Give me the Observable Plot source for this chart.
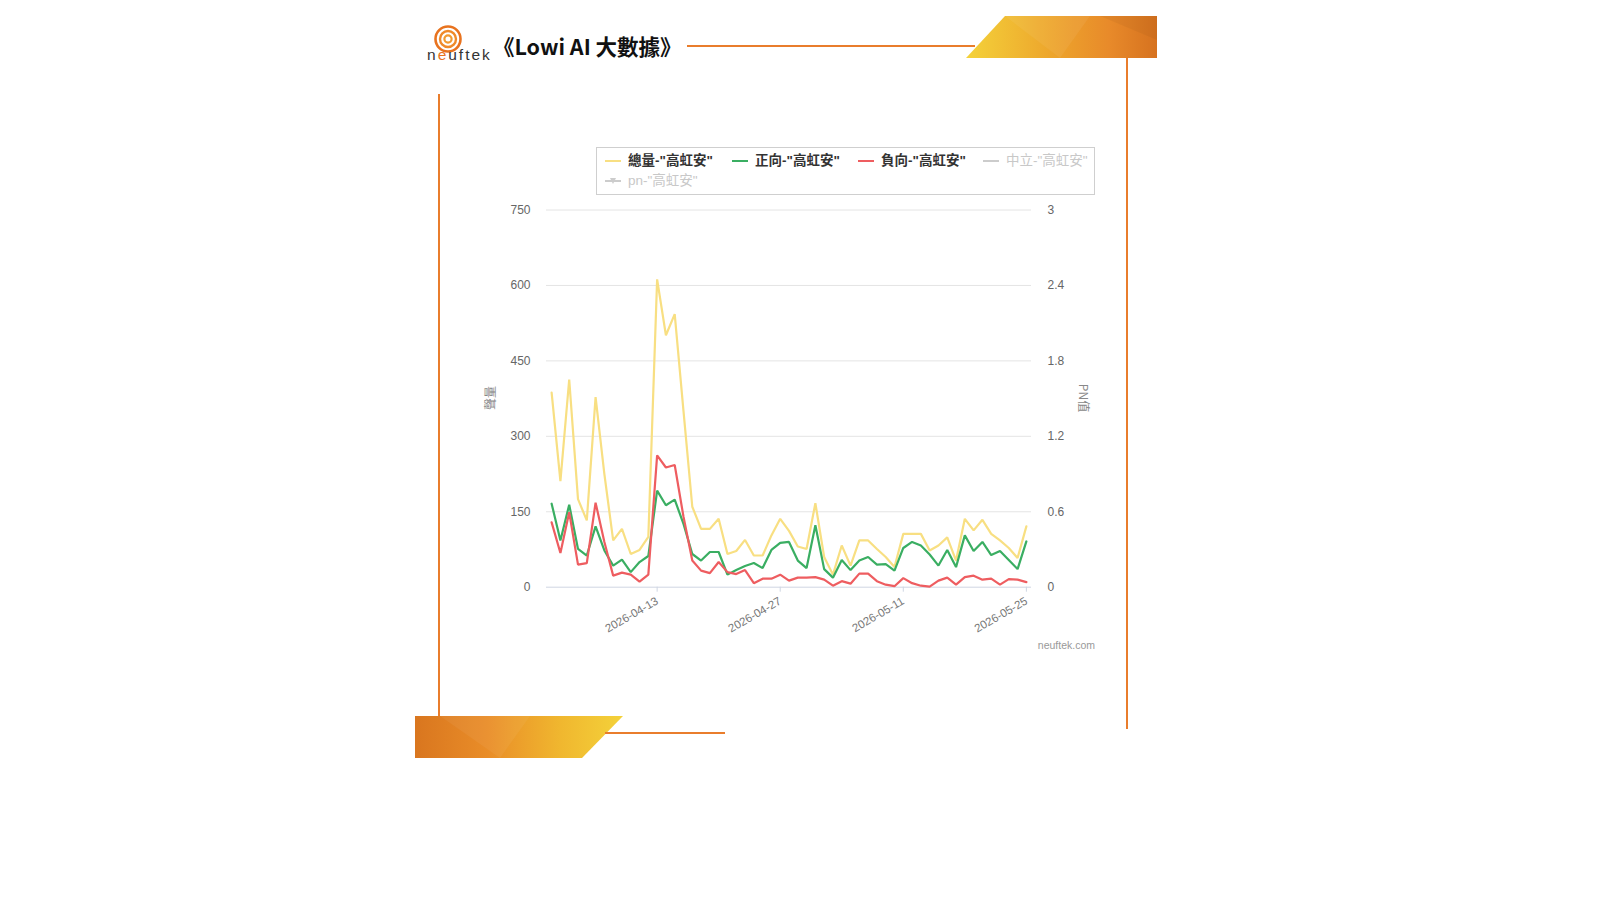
<!DOCTYPE html>
<html>
<head>
<meta charset="utf-8">
<script src="https://cdn.jsdelivr.net/npm/d3@7"></script>
<script src="https://cdn.jsdelivr.net/npm/@observablehq/plot@0.6"></script>
<style>
  html, body { margin: 0; padding: 0; background: #fff; }
  #page { position: relative; width: 1600px; height: 900px; overflow: hidden; font-family: "Liberation Sans", "Noto Sans CJK TC", sans-serif; }
  #page > svg, #page > .abs { position: absolute; left: 0; top: 0; }
  #legend { position: absolute; left: 596px; top: 147px; width: 497px; height: 46px; border: 1px solid #cfcfcf; box-sizing: content-box; font-family: "Liberation Sans", "Noto Sans CJK TC", sans-serif; font-size: 13.5px; font-weight: bold; }
  .item { position: absolute; white-space: nowrap; line-height: 16px; }
  .swatch { position: absolute; top: 7px; width: 16px; height: 2px; }
</style>
</head>
<body>
<div id="page"></div>
<script>
// ---- data ----
const dates = [
  "2026-04-01","2026-04-02","2026-04-03","2026-04-04","2026-04-05","2026-04-06","2026-04-07","2026-04-08","2026-04-09","2026-04-10",
  "2026-04-11","2026-04-12","2026-04-13","2026-04-14","2026-04-15","2026-04-16","2026-04-17","2026-04-18","2026-04-19","2026-04-20",
  "2026-04-21","2026-04-22","2026-04-23","2026-04-24","2026-04-25","2026-04-26","2026-04-27","2026-04-28","2026-04-29","2026-04-30",
  "2026-05-01","2026-05-02","2026-05-03","2026-05-04","2026-05-05","2026-05-06","2026-05-07","2026-05-08","2026-05-09","2026-05-10",
  "2026-05-11","2026-05-12","2026-05-13","2026-05-14","2026-05-15","2026-05-16","2026-05-17","2026-05-18","2026-05-19","2026-05-20",
  "2026-05-21","2026-05-22","2026-05-23","2026-05-24","2026-05-25"
];
const totalVolume = [387,211,413,175,133,378,225,93,116,66, 74,100,612,501,543,350,160,116,116,136,
  66,72,94,63,63,103,136,112,81,76, 167,60,25,83,43,93,93,76,60,40,
  106,106,106,73,83,99,53,136,113,134, 106,93,78,58,121];
const positiveVolume = [166,93,164,76,63,121,73,43,55,30, 50,62,192,163,174,126,66,53,70,70,
  25,34,42,48,38,74,88,90,53,38, 123,36,19,54,34,53,60,45,46,33,
  78,90,83,65,43,74,40,103,72,90, 64,72,54,36,91];
const negativeVolume = [129,68,149,45,48,168,90,23,29,25, 11,25,262,238,243,140,53,33,28,50,
  30,26,34,8,17,17,25,13,19,19, 20,15,3,12,7,27,27,12,5,2,
  18,8,3,1,13,19,5,20,23,15, 17,5,16,15,10];
const seriesNames = ['總量-"高虹安"', '正向-"高虹安"', '負向-"高虹安"', '中立-"高虹安"', 'pn-"高虹安"'];
const leftTicks = [0, 150, 300, 450, 600, 750];
const rightTickLabels = ["0", "0.6", "1.2", "1.8", "2.4", "3"];
const xTickLabels = ["2026-04-13", "2026-04-27", "2026-05-11", "2026-05-25"];

const colors = { total: "#f8df82", positive: "#3aae62", negative: "#ee5d60", inactive: "#cccccc" };

const parse = d3.utcParse("%Y-%m-%d");
const rows = dates.map((d, i) => ({ date: parse(d), total: totalVolume[i], positive: positiveVolume[i], negative: negativeVolume[i] }));
const hours14 = 14 * 3600 * 1000;
const xDomain = [new Date(+parse(dates[0]) - hours14), new Date(+parse(dates[dates.length - 1]) + hours14)];

const page = document.getElementById("page");

// ---- decorations (behind) ----
const deco = `
<svg class="abs" width="1600" height="900" xmlns="http://www.w3.org/2000/svg">
  <defs>
    <linearGradient id="gTop" x1="0" x2="1" y1="0" y2="0">
      <stop offset="0" stop-color="#f4d23a"/>
      <stop offset="0.45" stop-color="#eda52c"/>
      <stop offset="0.75" stop-color="#e88a2a"/>
      <stop offset="1" stop-color="#d6721f"/>
    </linearGradient>
    <linearGradient id="gBot" x1="0" x2="1" y1="0" y2="0">
      <stop offset="0" stop-color="#d9761f"/>
      <stop offset="0.35" stop-color="#e98d28"/>
      <stop offset="0.7" stop-color="#f0b72f"/>
      <stop offset="1" stop-color="#f4d23a"/>
    </linearGradient>
  </defs>
  <polygon points="966,58 1005,16 1157,16 1157,58" fill="url(#gTop)"/>
  <polygon points="1005,16 1060,58 1090,16" fill="#ffffff" opacity="0.06"/>
  <polygon points="1100,16 1157,40 1157,16" fill="#000" opacity="0.04"/>
  <line x1="687" y1="46" x2="975" y2="46" stroke="#e97d2c" stroke-width="2"/>
  <line x1="1127" y1="58" x2="1127" y2="729" stroke="#e97d2c" stroke-width="2"/>
  <line x1="439" y1="94" x2="439" y2="716" stroke="#e97d2c" stroke-width="2"/>
  <polygon points="415,716 623,716 582,758 415,758" fill="url(#gBot)"/>
  <polygon points="440,716 500,758 530,716" fill="#fff" opacity="0.05"/>
  <line x1="605" y1="733" x2="725" y2="733" stroke="#e97d2c" stroke-width="2"/>
  <!-- logo -->
  <circle cx="448" cy="39" r="12.5" fill="none" stroke="#e8731f" stroke-width="2.6"/>
  <circle cx="448" cy="39" r="8" fill="none" stroke="#ef8a2a" stroke-width="2.4"/>
  <circle cx="448" cy="39" r="3.6" fill="none" stroke="#f29a30" stroke-width="2.2"/>
  <text x="427" y="60" font-family="Liberation Sans, sans-serif" font-size="15.5" fill="#333" letter-spacing="2">n<tspan fill="#e8731f">e</tspan>uftek</text>
  <text x="493" y="55" font-family="Noto Sans CJK TC, sans-serif" font-size="21.5" font-weight="bold" fill="#111">《Lowi AI 大數據》</text>
</svg>`;
page.insertAdjacentHTML("beforeend", deco);

// ---- chart ----
const chart = Plot.plot({
  width: 1600,
  height: 900,
  marginLeft: 546,
  marginRight: 569,
  marginTop: 209.5,
  marginBottom: 313.3,
  style: { background: "transparent", fontFamily: "Liberation Sans, Noto Sans CJK TC, sans-serif" },
  x: { type: "utc", domain: xDomain },
  y: { domain: [0, 750] },
  marks: [
    Plot.ruleY(leftTicks.slice(1), { stroke: "#e4e4e4", strokeWidth: 1 }),
    Plot.ruleY([0], { stroke: "#cfd6e3", strokeWidth: 1 }),
    Plot.lineY(rows, { x: "date", y: "total", stroke: colors.total, strokeWidth: 2.2, strokeLinejoin: "miter" }),
    Plot.lineY(rows, { x: "date", y: "positive", stroke: colors.positive, strokeWidth: 2.2, strokeLinejoin: "miter" }),
    Plot.lineY(rows, { x: "date", y: "negative", stroke: colors.negative, strokeWidth: 2.2, strokeLinejoin: "miter" }),
    Plot.axisY({ ticks: leftTicks, tickSize: 0, tickPadding: 16, label: null, fontSize: 12, color: "#666" }),
    Plot.axisY({ anchor: "right", ticks: leftTicks, tickFormat: d => rightTickLabels[leftTicks.indexOf(d)], tickSize: 0, tickPadding: 16, label: null, fontSize: 12, color: "#666" }),
    Plot.axisX({ ticks: xTickLabels.map(parse), tickFormat: d3.utcFormat("%Y-%m-%d"), tickRotate: -30, tickSize: 5, tickPadding: 8, label: null, fontSize: 11.5, color: "#777", stroke: "#cfd6e3" })
  ]
});
page.appendChild(chart);

// ---- axis titles & credit ----
const overlay = `
<svg class="abs" width="1600" height="900" xmlns="http://www.w3.org/2000/svg" style="pointer-events:none">
  <text transform="translate(489,398) rotate(-90)" text-anchor="middle" dominant-baseline="central" font-family="Noto Sans CJK TC, sans-serif" font-size="12" fill="#888">聲量</text>
  <text transform="translate(1084,398) rotate(90)" text-anchor="middle" dominant-baseline="central" font-family="Noto Sans CJK TC, sans-serif" font-size="12" fill="#888">PN值</text>
  <text x="1095" y="649" text-anchor="end" font-family="Liberation Sans, sans-serif" font-size="10.5" fill="#999">neuftek.com</text>
</svg>`;
page.insertAdjacentHTML("beforeend", overlay);

// ---- legend ----
const legend = document.createElement("div");
legend.id = "legend";
const items = [
  { name: seriesNames[0], color: colors.total, x: 8, y: 5, active: true },
  { name: seriesNames[1], color: colors.positive, x: 135, y: 5, active: true },
  { name: seriesNames[2], color: colors.negative, x: 261, y: 5, active: true },
  { name: seriesNames[3], color: colors.inactive, x: 386, y: 5, active: false },
  { name: seriesNames[4], color: colors.inactive, x: 8, y: 25, active: false, marker: true }
];
for (const it of items) {
  const sw = it.marker
    ? `<svg style="position:absolute;left:0;top:0" width="18" height="16"><line x1="0" y1="8" x2="16" y2="8" stroke="${it.color}" stroke-width="2"/><path d="M5,5 L11,5 L8,11 Z" fill="${it.color}"/></svg>`
    : `<span class="swatch" style="left:0;background:${it.color}"></span>`;
  const el = document.createElement("div");
  el.className = "item";
  el.style.left = it.x + "px";
  el.style.top = it.y + "px";
  el.innerHTML = `${sw}<span style="margin-left:23px;color:${it.active ? '#333' : '#c8c8c8'};font-weight:${it.active ? 'bold' : 'normal'}">${it.name}</span>`;
  legend.appendChild(el);
}
page.appendChild(legend);
</script>
</body>
</html>
